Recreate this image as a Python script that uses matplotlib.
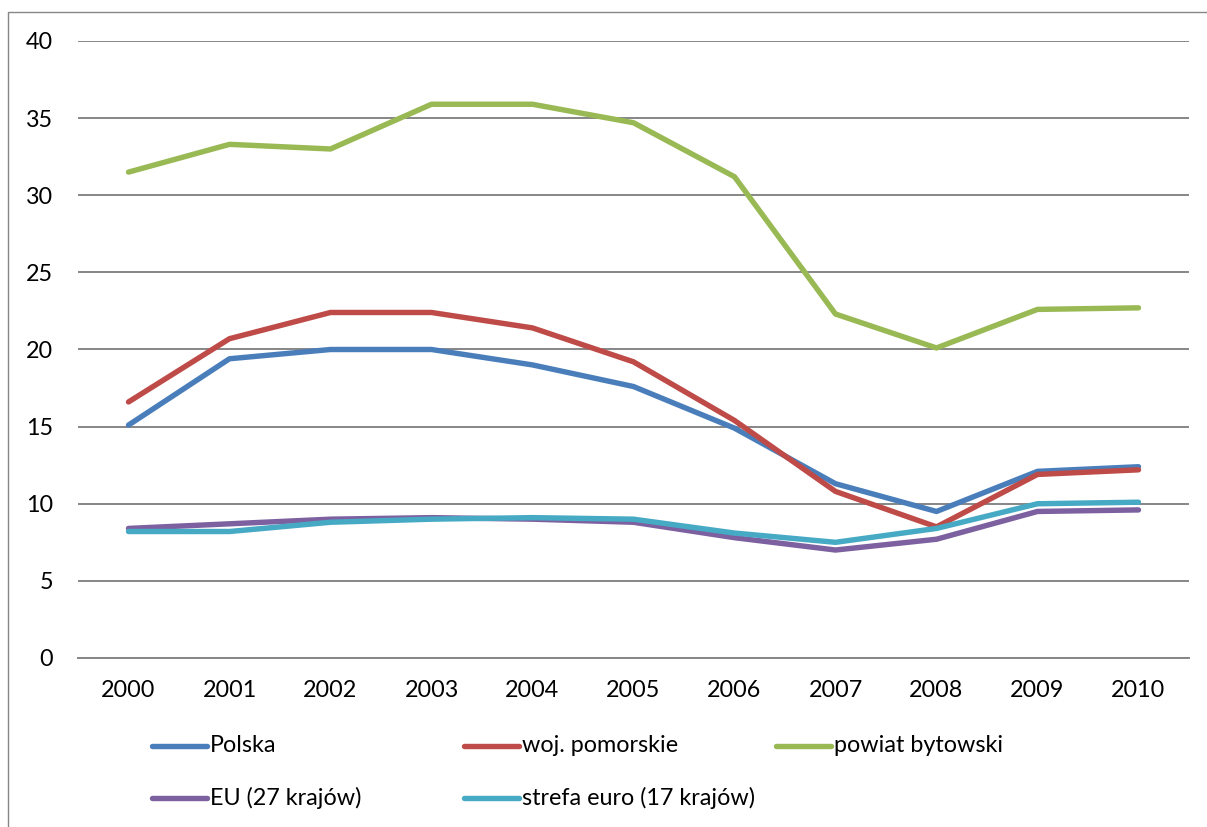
import matplotlib
matplotlib.use("Agg")
from matplotlib import pyplot as plt
from matplotlib.lines import Line2D
from matplotlib.patches import Rectangle

years = ["2000", "2001", "2002", "2003", "2004", "2005", "2006", "2007", "2008", "2009", "2010"]
polska = [15.1, 19.4, 20.0, 20.0, 19.0, 17.6, 14.9, 11.3, 9.5, 12.1, 12.4]
pomorskie = [16.6, 20.7, 22.4, 22.4, 21.4, 19.2, 15.4, 10.8, 8.5, 11.9, 12.2]
bytowski = [31.5, 33.3, 33.0, 35.9, 35.9, 34.7, 31.2, 22.3, 20.1, 22.6, 22.7]
eu27 = [8.4, 8.7, 9.0, 9.1, 9.0, 8.8, 7.8, 7.0, 7.7, 9.5, 9.6]
euro17 = [8.2, 8.2, 8.8, 9.0, 9.1, 9.0, 8.1, 7.5, 8.4, 10.0, 10.1]

labels = ["Polska", "woj. pomorskie", "powiat bytowski", "EU (27 krajów)", "strefa euro (17 krajów)"]
colors = ["#4A7EBB", "#BE4B48", "#98B954", "#7D60A0", "#46AAC5"]
series = [polska, pomorskie, bytowski, eu27, euro17]

plt.rcParams["font.family"] = ["Lato", "DejaVu Sans"]
W, H = 1207, 827
fs = 16.8
fig = plt.figure(figsize=(W / 100, H / 100), dpi=100)
ax = fig.add_axes([78 / W, (H - 658) / H, (1189 - 78) / W, (658 - 41) / H])

x = range(len(years))
for vals, c in zip(series, colors):
    ax.plot(x, vals, color=c, lw=3.9, solid_capstyle="round", solid_joinstyle="round", zorder=3)

ax.set_xlim(-0.5, len(years) - 0.5)
ax.set_ylim(0, 40)
ax.set_yticks(range(0, 41, 5))
ax.set_xticks(list(x))
ax.set_xticklabels(years)
ax.grid(axis="y", color="#868686", lw=1.4)
ax.set_axisbelow(True)
for s in ["top", "right", "left"]:
    ax.spines[s].set_visible(False)
ax.spines["bottom"].set_color("#868686")
ax.spines["bottom"].set_linewidth(1.4)
ax.tick_params(axis="both", length=0, labelsize=fs, colors="black")
ax.tick_params(axis="y", pad=18)
ax.tick_params(axis="x", pad=16)

# outer chart border
fig.add_artist(Rectangle((8 / W, -0.01), (W + 10 - 8) / W, (H - 12) / H + 0.01,
                         transform=fig.transFigure, fill=False, ec="#868686", lw=1.0))

# legend, laid out like the original
hx = [152, 464, 776]
rows = [746, 798]
for i, (lab, c) in enumerate(zip(labels, colors)):
    px = hx[i % 3]
    py = rows[i // 3]
    yf = (H - py) / H
    fig.add_artist(Line2D([px / W, (px + 55) / W], [yf, yf], color=c, lw=3.9,
                          solid_capstyle="round", transform=fig.transFigure))
    fig.text((px + 58) / W, yf, lab, fontsize=fs, va="center", ha="left")

fig.savefig("out.png", dpi=100)
